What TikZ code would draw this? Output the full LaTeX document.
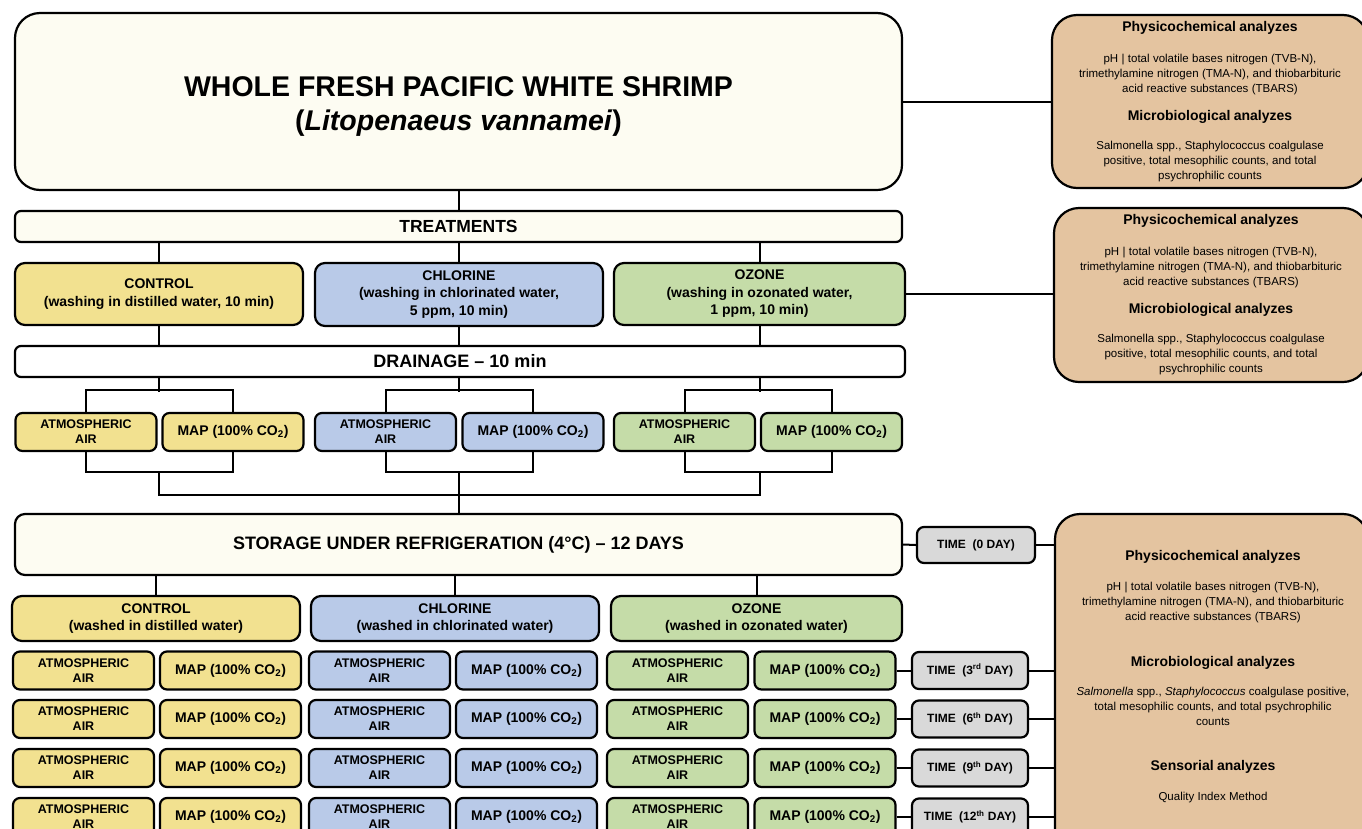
\documentclass[tikz,border=0pt]{standalone}
\usepackage{fontspec}
\setmainfont{Liberation Sans}
\definecolor{creamfill}{RGB}{253,252,242}
\definecolor{ctrlfill}{RGB}{242,225,144}
\definecolor{chlfill}{RGB}{185,202,232}
\definecolor{oznfill}{RGB}{197,220,168}
\definecolor{anfill}{RGB}{228,196,160}
\definecolor{timefill}{RGB}{217,217,217}
\newcommand{\anhead}[1]{{\fontsize{14}{17}\selectfont\bfseries #1\par}}
\newcommand{\anbody}[1]{{\fontsize{11.5}{15}\selectfont #1\par}}
\newcommand{\mapco}{MAP (100\% CO\textsubscript{2})}
\newcommand{\atmair}{ATMOSPHERIC\\AIR}
\newcommand{\physbody}{\anbody{pH | total volatile bases nitrogen (TVB-N),\\trimethylamine nitrogen (TMA-N), and thiobarbituric\\acid reactive substances (TBARS)}}
\tikzset{
  box/.style={draw=black, line width=2.2pt, align=center, inner sep=0pt, text=black},
  groupbox/.style={box, rounded corners=10pt, minimum width=288pt, font=\fontsize{14}{17.5}\selectfont\bfseries},
  atmbox/.style={box, rounded corners=7pt, minimum width=141pt, minimum height=38pt, font=\fontsize{12.5}{15}\selectfont\bfseries},
  mapbox/.style={box, rounded corners=7pt, minimum width=141pt, minimum height=38pt, font=\fontsize{14}{17}\selectfont\bfseries},
  timebox/.style={box, fill=timefill, rounded corners=7pt, minimum width=116pt, minimum height=37pt, font=\fontsize{12}{14}\selectfont\bfseries},
  anbox/.style={box, fill=anfill, rounded corners=25pt},
  link/.style={draw=black, line width=2pt}
}
\begin{document}
\begin{tikzpicture}[x=1pt, y=-1pt]
  \useasboundingbox (0,0) rectangle (1362,828);
  \clip (0,0) rectangle (1362,828);
  \node[box, fill=creamfill, rounded corners=25pt, minimum width=887pt, minimum height=177pt, text height=64pt, font=\fontsize{28.5}{34}\selectfont\bfseries] (shrimp) at (458.5,101.5) {WHOLE FRESH PACIFIC WHITE SHRIMP\\(\textit{Litopenaeus vannamei})};
  \node[box, fill=creamfill, rounded corners=6pt, minimum width=887pt, minimum height=31pt, font=\fontsize{17.5}{20}\selectfont\bfseries] (treat) at (458.5,226.5) {TREATMENTS};
  \node[groupbox, fill=ctrlfill, minimum height=62pt] (ctrl) at (159,294) {CONTROL\\(washing in distilled water, 10 min)};
  \node[groupbox, fill=chlfill, minimum height=63pt] (chl) at (459,294.5) {CHLORINE\\(washing in chlorinated water,\\5 ppm, 10 min)};
  \node[groupbox, fill=oznfill, minimum width=291pt, minimum height=62pt] (ozn) at (759.5,294) {OZONE\\(washing in ozonated water,\\1 ppm, 10 min)};
  \node[box, fill=white, rounded corners=6pt, minimum width=890pt, minimum height=31pt, font=\fontsize{18}{20}\selectfont\bfseries] (drain) at (460,361.5) {DRAINAGE -- 10 min};
  \node[atmbox, fill=ctrlfill] (ctrlatm) at (86,432) {\atmair};
  \node[mapbox, fill=ctrlfill] (ctrlmap) at (233,432) {\mapco};
  \node[atmbox, fill=chlfill] (chlatm) at (385.5,432) {\atmair};
  \node[mapbox, fill=chlfill] (chlmap) at (533,432) {\mapco};
  \node[atmbox, fill=oznfill] (oznatm) at (684.5,432) {\atmair};
  \node[mapbox, fill=oznfill] (oznmap) at (831.5,432) {\mapco};
  \node[box, fill=creamfill, rounded corners=10pt, minimum width=887pt, minimum height=61pt, font=\fontsize{18}{20}\selectfont\bfseries] (store) at (458.5,544.5) {STORAGE UNDER REFRIGERATION (4°C) -- 12 DAYS};
  \node[timebox, minimum width=118pt, minimum height=36pt] (day0) at (976,545) {TIME\ \ (0 DAY)};
  \node[groupbox, fill=ctrlfill, minimum height=45pt] (ctrlb) at (156,618.5) {CONTROL\\(washed in distilled water)};
  \node[groupbox, fill=chlfill, minimum height=45pt] (chlb) at (455,618.5) {CHLORINE\\(washed in chlorinated water)};
  \node[groupbox, fill=oznfill, minimum width=291pt, minimum height=45pt] (oznb) at (756.5,618.5) {OZONE\\(washed in ozonated water)};
  \node[atmbox, fill=ctrlfill] (ctrlatm3) at (83.5,670.5) {\atmair};
  \node[mapbox, fill=ctrlfill] (ctrlmap3) at (230.5,670.5) {\mapco};
  \node[atmbox, fill=chlfill] (chlatm3) at (379.5,670.5) {\atmair};
  \node[mapbox, fill=chlfill] (chlmap3) at (526.5,670.5) {\mapco};
  \node[atmbox, fill=oznfill] (oznatm3) at (677.5,670.5) {\atmair};
  \node[mapbox, fill=oznfill] (oznmap3) at (825,670.5) {\mapco};
  \node[timebox] (day3) at (970,670.5) {TIME\ \ (3\textsuperscript{rd} DAY)};
  \node[atmbox, fill=ctrlfill] (ctrlatm6) at (83.5,719) {\atmair};
  \node[mapbox, fill=ctrlfill] (ctrlmap6) at (230.5,719) {\mapco};
  \node[atmbox, fill=chlfill] (chlatm6) at (379.5,719) {\atmair};
  \node[mapbox, fill=chlfill] (chlmap6) at (526.5,719) {\mapco};
  \node[atmbox, fill=oznfill] (oznatm6) at (677.5,719) {\atmair};
  \node[mapbox, fill=oznfill] (oznmap6) at (825,719) {\mapco};
  \node[timebox] (day6) at (970,719) {TIME\ \ (6\textsuperscript{th} DAY)};
  \node[atmbox, fill=ctrlfill] (ctrlatm9) at (83.5,768) {\atmair};
  \node[mapbox, fill=ctrlfill] (ctrlmap9) at (230.5,768) {\mapco};
  \node[atmbox, fill=chlfill] (chlatm9) at (379.5,768) {\atmair};
  \node[mapbox, fill=chlfill] (chlmap9) at (526.5,768) {\mapco};
  \node[atmbox, fill=oznfill] (oznatm9) at (677.5,768) {\atmair};
  \node[mapbox, fill=oznfill] (oznmap9) at (825,768) {\mapco};
  \node[timebox] (day9) at (970,768) {TIME\ \ (9\textsuperscript{th} DAY)};
  \node[atmbox, fill=ctrlfill] (ctrlatm12) at (83.5,817) {\atmair};
  \node[mapbox, fill=ctrlfill] (ctrlmap12) at (230.5,817) {\mapco};
  \node[atmbox, fill=chlfill] (chlatm12) at (379.5,817) {\atmair};
  \node[mapbox, fill=chlfill] (chlmap12) at (526.5,817) {\mapco};
  \node[atmbox, fill=oznfill] (oznatm12) at (677.5,817) {\atmair};
  \node[mapbox, fill=oznfill] (oznmap12) at (825,817) {\mapco};
  \node[timebox] (day12) at (970,817) {TIME\ \ (12\textsuperscript{th} DAY)};
  \node[anbox, text width=316pt, minimum height=173pt] (an1) at (1210,101.5) {\anhead{Physicochemical analyzes}\vspace{16pt}\physbody\vspace{11pt}\anhead{Microbiological analyzes}\vspace{14pt}\anbody{Salmonella spp., Staphylococcus coalgulase\\positive, total mesophilic counts, and total\\psychrophilic counts}};
  \node[anbox, text width=314pt, minimum height=174pt] (an2) at (1211,295) {\anhead{Physicochemical analyzes}\vspace{16pt}\physbody\vspace{11pt}\anhead{Microbiological analyzes}\vspace{14pt}\anbody{Salmonella spp., Staphylococcus coalgulase\\positive, total mesophilic counts, and total\\psychrophilic counts}};
  \node[anbox, minimum width=313pt, minimum height=366pt] (an3) at (1211.5,697) {};
  \node[align=center, inner sep=0pt, text width=313pt, anchor=north] (an3txt) at (1213,550) {\anhead{Physicochemical analyzes}\vspace{15pt}\physbody\vspace{29pt}\anhead{Microbiological analyzes}\vspace{14pt}\anbody{\textit{Salmonella} spp., \textit{Staphylococcus} coalgulase positive,\\total mesophilic counts, and total psychrophilic\\counts}\vspace{28pt}\anhead{Sensorial analyzes}\vspace{15pt}\anbody{Quality Index Method}};
  \draw[link] (shrimp.south) -- (treat.north);
  \draw[link] (treat.south -| ctrl.north) -- (ctrl.north);
  \draw[link] (treat.south -| chl.north) -- (chl.north);
  \draw[link] (treat.south -| ozn.north) -- (ozn.north);
  \draw[link] (ctrl.south) -- (ctrl.south |- drain.north);
  \draw[link] (chl.south) -- (chl.south |- drain.north);
  \draw[link] (ozn.south) -- (ozn.south |- drain.north);
  \draw[link] (drain.south -| ctrl.south) -- ++(0,14);
  \draw[link] (drain.south -| chl.south) -- ++(0,14);
  \draw[link] (drain.south -| ozn.south) -- ++(0,14);
  \draw[link] (ctrlatm.north) -- ++(0,-22) -| (ctrlmap.north);
  \draw[link] (chlatm.north) -- ++(0,-22) -| (chlmap.north);
  \draw[link] (oznatm.north) -- ++(0,-22) -| (oznmap.north);
  \draw[link] (ctrlatm.south) -- ++(0,20) coordinate (ctrlfoot) -| (ctrlmap.south);
  \draw[link] (chlatm.south) -- ++(0,20) coordinate (chlfoot) -| (chlmap.south);
  \draw[link] (oznatm.south) -- ++(0,20) coordinate (oznfoot) -| (oznmap.south);
  \draw[link] (ctrlfoot -| ctrl.south) -- ++(0,23) -| (oznfoot -| ozn.south);
  \draw[link] (chlfoot -| chl.south) -- (store.north -| chl.south);
  \draw[link] (store.south -| ctrlb.north) -- (ctrlb.north);
  \draw[link] (store.south -| chlb.north) -- (chlb.north);
  \draw[link] (store.south -| oznb.north) -- (oznb.north);
  \draw[link] (shrimp.east) -- (shrimp.east -| an1.west);
  \draw[link] (ozn.east) -- (ozn.east -| an2.west);
  \draw[link] (store.east) -- (day0.west);
  \draw[link] (day0.east) -- (day0.east -| an3.west);
  \draw[link] (oznmap3.east) -- (day3.west);
  \draw[link] (day3.east) -- (day3.east -| an3.west);
  \draw[link] (oznmap6.east) -- (day6.west);
  \draw[link] (day6.east) -- (day6.east -| an3.west);
  \draw[link] (oznmap9.east) -- (day9.west);
  \draw[link] (day9.east) -- (day9.east -| an3.west);
  \draw[link] (oznmap12.east) -- (day12.west);
  \draw[link] (day12.east) -- (day12.east -| an3.west);
\end{tikzpicture}
\end{document}
